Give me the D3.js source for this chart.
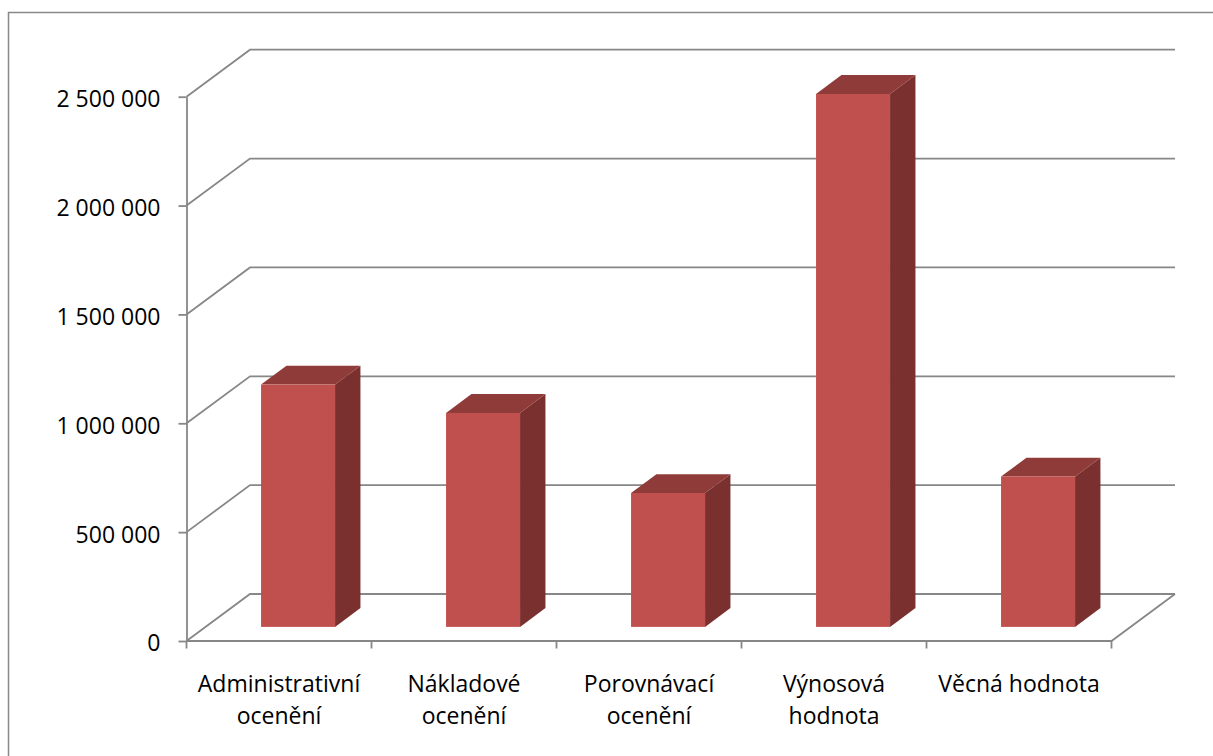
<!DOCTYPE html>
<html>
<head>
<meta charset="utf-8">
<script src="https://cdn.jsdelivr.net/npm/d3@7"></script>
<style>
  html, body { margin: 0; padding: 0; background: #fff; }
  svg { display: block; }
  text { font-family: "Open Sans", "Noto Sans", sans-serif; fill: #000; }
</style>
</head>
<body>
<svg id="chart" width="1213" height="756"></svg>
<script>
// Valuation results (CZK)
const categories = ["Administrativní ocenění", "Nákladové ocenění", "Porovnávací ocenění", "Výnosová hodnota", "Věcná hodnota"];
const values = [1113000, 983000, 615000, 2448000, 691000];
const yTicks = [0, 500000, 1000000, 1500000, 2000000, 2500000];

const svg = d3.select("#chart");
const W = 1213, H = 756;

// plot geometry (front plane) and 3D depth offset
const plot = { left: 186.5, right: 1111.5, bottom: 641, top: 96.7 };
const depth = { dx: 63.5, dy: -47 };
const barDepth = [0.3, 0.7];      // bar occupies this slice of the floor depth
const gridColor = "#878787";
const fontSize = 23;

const x = d3.scaleBand().domain(categories).range([plot.left, plot.right]).paddingInner(0).paddingOuter(0);
const y = d3.scaleLinear().domain([0, 2500000]).range([plot.bottom, plot.top]);

const fmt = d3.formatLocale({ decimal: ",", thousands: " ", grouping: [3], currency: ["", " Kč"] }).format(",d");

// outer frame
svg.append("rect")
  .attr("x", 8.5).attr("y", 12.5)
  .attr("width", W + 20).attr("height", H + 20)
  .attr("fill", "#fff").attr("stroke", "#888").attr("stroke-width", 1.5);

const grid = svg.append("g").attr("fill", "none").attr("stroke", gridColor).attr("stroke-width", 1.8);

// back-wall gridlines and side-wall diagonals
yTicks.forEach(t => {
  const yy = y(t);
  grid.append("path")
    .attr("d", `M${plot.left},${yy} L${plot.left + depth.dx},${yy + depth.dy} L${plot.right + depth.dx},${yy + depth.dy}`);
});

// floor front edge and right edge
grid.append("path")
  .attr("d", `M${plot.left},${plot.bottom} L${plot.right},${plot.bottom} L${plot.right + depth.dx},${plot.bottom + depth.dy}`);

// x-axis ticks at category boundaries
const bounds = categories.map(c => x(c)).concat([x(categories[categories.length - 1]) + x.bandwidth()]);
grid.selectAll(".xt").data(bounds).join("line")
  .attr("x1", d => d).attr("x2", d => d)
  .attr("y1", plot.bottom).attr("y2", plot.bottom + 7.5);

// value axis
const yAxis = d3.axisLeft(y).tickValues(yTicks).tickFormat(fmt).tickSize(8).tickSizeOuter(0).tickPadding(18);
const ya = svg.append("g").attr("transform", `translate(${plot.left},0)`).call(yAxis);
ya.select(".domain").attr("stroke", gridColor).attr("stroke-width", 1.8);
ya.selectAll(".tick line").attr("stroke", gridColor).attr("stroke-width", 1.8);
ya.selectAll(".tick text")
  .attr("font-size", fontSize).attr("dy", "0.43em")
  .style("font-family", "'Open Sans', sans-serif").attr("fill", "#000");

// 3D columns
const bw = x.bandwidth() * 0.4;
const frontCol = "#C0504D", topCol = "#8F3B39", sideCol = "#7B3030";
const bars = svg.append("g").selectAll("g").data(categories.map((c, i) => ({ c, v: values[i] }))).join("g");

bars.each(function (d) {
  const g = d3.select(this);
  const ox0 = depth.dx * barDepth[0], oy0 = depth.dy * barDepth[0];
  const ox1 = depth.dx * barDepth[1], oy1 = depth.dy * barDepth[1];
  const x0 = x(d.c) + (x.bandwidth() - bw) / 2 + ox0;
  const x1 = x0 + bw;
  const yb = y(0) + oy0;
  const yt = y(d.v) + oy0;
  const ddx = ox1 - ox0, ddy = oy1 - oy0;
  // side face
  g.append("path")
    .attr("d", `M${x1},${yt} L${x1 + ddx},${yt + ddy} L${x1 + ddx},${yb + ddy} L${x1},${yb} Z`)
    .attr("fill", sideCol);
  // top face
  g.append("path")
    .attr("d", `M${x0},${yt} L${x0 + ddx},${yt + ddy} L${x1 + ddx},${yt + ddy} L${x1},${yt} Z`)
    .attr("fill", topCol);
  // front face
  g.append("rect")
    .attr("x", x0).attr("y", yt).attr("width", bw).attr("height", yb - yt)
    .attr("fill", frontCol);
});

// category labels, wrapped to the band width
const labels = svg.append("g").attr("text-anchor", "middle").attr("font-size", fontSize);
categories.forEach(c => {
  const cx = x(c) + x.bandwidth() / 2;
  const t = labels.append("text").attr("x", cx).attr("y", 692);
  const words = c.split(" ");
  let lines = [], cur = [];
  words.forEach(w => {
    const trial = cur.concat([w]).join(" ");
    t.text(trial);
    if (cur.length && t.node().getComputedTextLength() > x.bandwidth() - 8) {
      lines.push(cur.join(" "));
      cur = [w];
    } else {
      cur.push(w);
    }
  });
  lines.push(cur.join(" "));
  t.text(null);
  lines.forEach((ln, i) => {
    t.append("tspan").attr("x", cx).attr("y", 692 + i * 31.5).text(ln);
  });
});
</script>
</body>
</html>
